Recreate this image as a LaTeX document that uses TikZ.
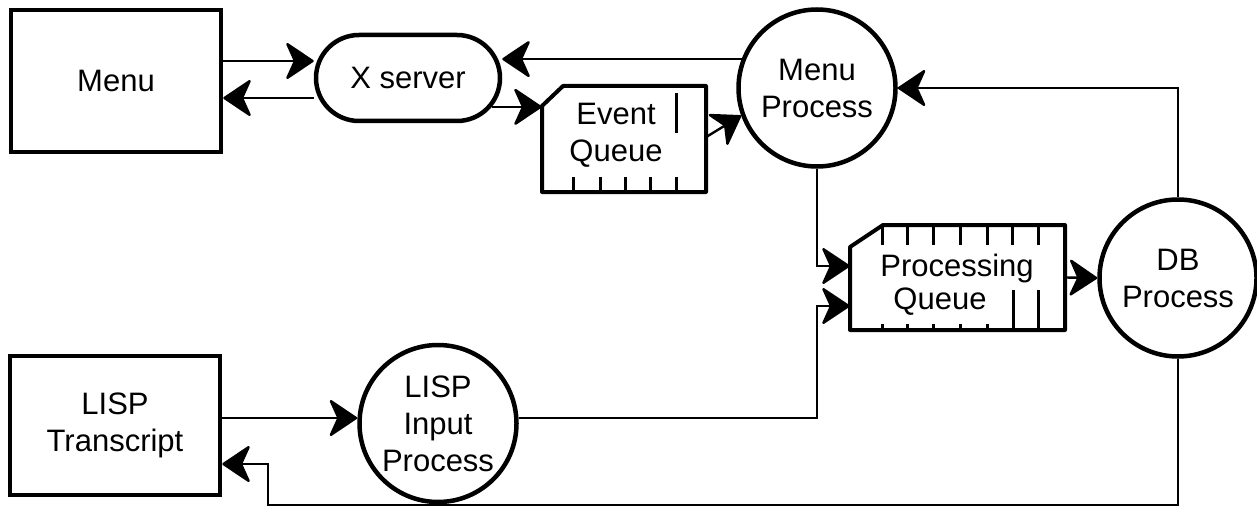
\documentclass[tikz,border=0pt]{standalone}
\usepackage{fontspec}
\setmainfont{Liberation Sans}
\usetikzlibrary{arrows.meta,shapes.misc}
\begin{document}
\begin{tikzpicture}[x=1pt,y=-1pt,
  every node/.style={font=\fontsize{31}{37}\selectfont, align=center, inner sep=0pt},
  boxn/.style={draw, line width=4.5pt, rectangle},
  pill/.style={draw, line width=4.5pt, rounded rectangle, minimum width=184pt, minimum height=86pt},
  proc/.style={draw, line width=4.5pt, circle, minimum size=157pt},
  qnode/.style={rectangle, draw=none},
  qline/.style={line width=4pt, line join=round},
  tick/.style={line width=3pt},
  arr/.style={line width=2.4pt, -{Stealth[length=30pt,width=40pt,inset=9pt,round]}}]
\useasboundingbox (0,0) rectangle (1257,508);

% nodes
\node[boxn, minimum width=210pt, minimum height=142pt] (menu) at (116,81) {Menu};
\node[pill] (xs) at (408,78) {X server};
\node[proc] (mp) at (817,88) {Menu\\Process};
\node[qnode, minimum width=164pt, minimum height=106pt] (eq) at (624,139) {};
\node[qnode, minimum width=215pt, minimum height=105pt] (pq) at (957.5,277.5) {};
\node[proc] (db) at (1178,278) {DB\\Process};
\node[boxn, minimum width=210pt, minimum height=139pt] (lt) at (115,425.5) {LISP\\Transcript};
\node[proc, minimum size=157pt] (lip) at (438,423.5) {LISP\\Input\\Process};

% event queue shape
\draw[qline] (542,106) -- (563,86) -- (706,86) -- (706,192) -- (542,192) -- cycle;
\foreach \x in {573,600,625,650,676} \draw[tick] (\x,177) -- (\x,192);
\draw[tick] (676,93) -- (676,133);
\node at (616,135) {Event\\Queue};

% processing queue shape
\draw[qline] (850,247) -- (883,225) -- (1065,225) -- (1065,330) -- (850,330) -- cycle;
\foreach \x in {882,907,933,960,987,1012,1038} \draw[tick] (\x,225) -- (\x,245);
\foreach \x in {882,907,933,960,987} \draw[tick] (\x,324) -- (\x,330);
\foreach \x in {1013,1038} \draw[tick] (\x,290) -- (\x,330);
\node at (957,268) {Processing};
\node at (940,302) {Queue};

% connectors
\draw[arr] (menu.east |- 0,61) -- (xs.west |- 0,61);
\draw[arr] (xs.west |- 0,98) -- (menu.east |- 0,98);
\draw[arr] (mp.159.7) -- (xs.east |- mp.159.7);
\draw[arr] (xs.-19.7) -- (eq.west |- xs.-19.7);
\draw[arr] (eq.east |- 0,137) -- (mp.200);
\coordinate (pqhigh) at ([yshift=11.5pt]pq.west);
\coordinate (pqlow) at ([yshift=-28.5pt]pq.west);
\draw[arr] (mp.south) |- (pqhigh);
\draw[arr] (lip.east |- 0,418) -| (mp.south |- pqlow) -- (pqlow);
\draw[arr] (pq.east) -- (db.west);
\draw[arr] (db.north) |- (mp.east);
\draw[arr] (lt.east |- 0,418) -- (lip.west |- 0,418);
\coordinate (bot) at (268,505);
\draw[arr] (db.south) |- (bot) |- (lt.east |- 0,464);
\end{tikzpicture}
\end{document}
